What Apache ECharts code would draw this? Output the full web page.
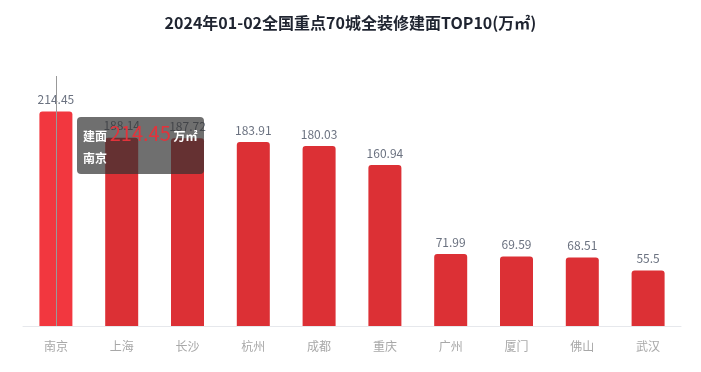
<!DOCTYPE html>
<html><head><meta charset="utf-8">
<script src="https://cdn.jsdelivr.net/npm/echarts@6/dist/echarts.min.js"></script>
<style>html,body{margin:0;padding:0;background:#fff}#c{width:701px;height:372px}</style>
</head><body><div id="c"></div>
<script>
var titleText = '2024年01-02全国重点70城全装修建面TOP10(万㎡)';
var cities = ['南京','上海','长沙','杭州','成都','重庆','广州','厦门','佛山','武汉'];
var values = [214.45,188.14,187.72,183.91,180.03,160.94,71.99,69.59,68.51,55.5];
var chart = echarts.init(document.getElementById('c'));
var font = '"Noto Sans CJK SC", "Noto Sans", sans-serif';
chart.setOption({
  animation: false,
  textStyle: {fontFamily: font},
  title: {text: titleText, left: 'center', top: 10,
    textStyle: {fontSize: 16, fontWeight: 'bold', color: '#1f2430', fontFamily: font}},
  grid: {left: 23, right: 20, top: 76, bottom: 46},
  tooltip: {
    trigger: 'axis',
    axisPointer: {type: 'line', lineStyle: {color: '#999', width: 1, type: 'solid'}},
    backgroundColor: 'rgba(50,50,50,0.7)',
    borderWidth: 0,
    padding: [5, 6],
    extraCssText: 'box-shadow:none;border-radius:4px;',
    textStyle: {color: '#fff', fontSize: 12, fontFamily: font},
    position: function (pt) { return [pt[0] + 21, 117]; },
    formatter: function (p) {
      var d = p[0];
      return '<div style="line-height:22px;font-weight:bold">建面 <span style="color:#e3333b;font-size:20px;font-weight:normal">' + d.value + '</span> 万㎡<br>' + d.name + '</div>';
    }
  },
  xAxis: {
    type: 'category', data: cities,
    axisLine: {lineStyle: {color: '#e6e8ec'}},
    axisTick: {alignWithLabel: true, lineStyle: {color: '#e6e8ec'}},
    axisLabel: {color: '#a8a8a8', fontSize: 12, margin: 14}
  },
  yAxis: {type: 'value', min: 0, max: 250, show: false, splitLine: {show: false}},
  series: [{
    type: 'bar', data: values, barWidth: 33,
    itemStyle: {color: '#dc3035', borderRadius: [3, 3, 0, 0]},
    emphasis: {itemStyle: {color: '#f2373f'}},
    label: {show: true, position: 'top', color: '#6b7280', fontSize: 12, distance: 6}
  }]
});
chart.dispatchAction({type: 'showTip', seriesIndex: 0, dataIndex: 0});
chart.dispatchAction({type: 'highlight', seriesIndex: 0, dataIndex: 0});
</script></body></html>
